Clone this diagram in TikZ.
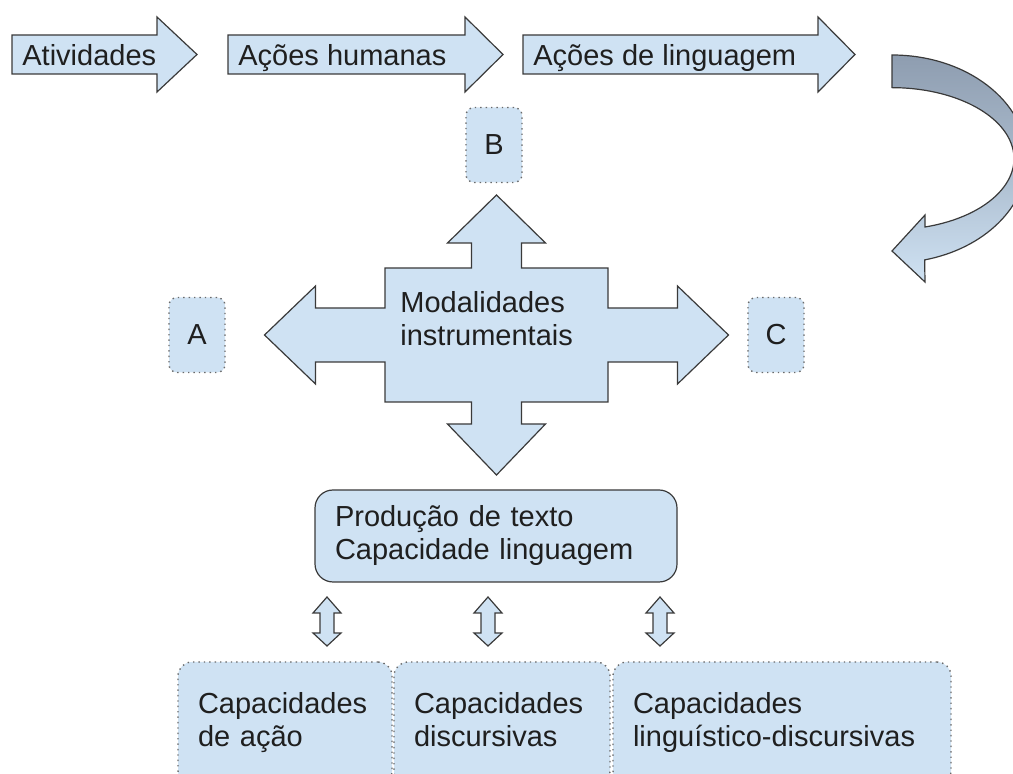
\documentclass[tikz,border=0pt]{standalone}
\usepackage{fontspec}
\setmainfont{Liberation Sans}
\usetikzlibrary{positioning}

\definecolor{boxblue}{HTML}{CFE2F3}
\definecolor{edgegray}{HTML}{3A3A3A}
\definecolor{dotgray}{HTML}{6A6A6A}
\definecolor{curvetop}{HTML}{8E9DB0}

\tikzset{
    blockarrow/.style={draw=edgegray, fill=boxblue, line width=0.6pt, line join=miter},
    lbl/.style={anchor=base west, inner sep=0pt, text=black!88},
    dotbox/.style={draw=dotgray, dotted, line width=0.7pt, fill=boxblue, rounded corners=4pt,
        minimum width=28pt, minimum height=37.5pt, text=black!88},
    capbox/.style={draw=dotgray, dotted, line width=0.7pt, fill=boxblue, rounded corners=7pt,
        inner xsep=10pt, minimum height=61.5pt, align=left, text=black!88}
}

\begin{document}
\begin{tikzpicture}[x=0.5pt, y=-0.5pt, every node/.style={font=\fontsize{14.5}{16.5}\selectfont}]
    \useasboundingbox (0,0) rectangle (1013,774);
    \clip (0,0) rectangle (1013,774);

    % top row of arrows
    \foreach \l/\r/\t in {12/157/197, 228/465/503, 523/818/855}
        \draw[blockarrow] (\l,35) -- (\r,35) -- (\r,17) -- (\t,54.5) -- (\r,92) -- (\r,74) -- (\l,74) -- cycle;
    \node[lbl] (ativ) at (22,65.5) {Atividades};
    \node[lbl] (humanas) at (238,65.5) {Ações humanas};
    \node[lbl] (lingua) at (533,65.5) {Ações de linguagem};

    % curved arrow on the right
    \draw[edgegray, line width=0.6pt, top color=curvetop, bottom color=boxblue, middle color=curvetop!55!boxblue]
        (892,55) arc[start angle=90, end angle=-76, x radius=67.5pt, y radius=52pt]
        -- (925,282) -- (892,251) -- (925,215) -- (925,227)
        arc[start angle=-74.3, end angle=90, x radius=61pt, y radius=35.5pt] -- cycle;

    % cross of four arrows
    \begin{scope}[shift={(496.5,335)}]
        \draw[blockarrow] (0,-140) -- (49,-92) -- (25,-92) -- (25,-67) -- (111.5,-67) -- (111.5,-27)
            -- (181,-27) -- (181,-49) -- (232,0) -- (181,49) -- (181,27) -- (111.5,27) -- (111.5,67)
            -- (25,67) -- (25,89) -- (49,89) -- (0,140) -- (-49,89) -- (-25,89) -- (-25,67)
            -- (-111.5,67) -- (-111.5,27) -- (-181,27) -- (-181,49) -- (-232,0) -- (-181,-49)
            -- (-181,-27) -- (-111.5,-27) -- (-111.5,-67) -- (-25,-67) -- (-25,-92) -- (-49,-92) -- cycle;
    \end{scope}
    \node[lbl, anchor=west, align=left] (modal) at (400,322) {\strut Modalidades\\instrumentais\strut};

    \node[dotbox] (B) at (494,145) {B};
    \node[dotbox] (A) at (197,335) {A};
    \node[dotbox] (C) at (776,335) {C};

    % production box
    \node[draw=edgegray, line width=0.6pt, fill=boxblue, rounded corners=9pt, inner xsep=10pt,
        text width=161pt, minimum height=46pt, align=left, text=black!88]
        (prod) at (496,536) {\strut Produção de texto\\Capacidade linguagem\strut};

    % small double arrows
    \foreach \x in {327,488,660}
        \draw[blockarrow] (\x,597) -- (\x+14,613) -- (\x+7,613) -- (\x+7,633) -- (\x+14,633)
            -- (\x,646) -- (\x-14,633) -- (\x-7,633) -- (\x-7,613) -- (\x-14,613) -- cycle;

    % capacities
    \node[capbox, text width=87pt] (acao) at (285,723.5) {\strut Capacidades\\de ação\strut};
    \node[capbox, text width=88pt] (disc) at (502,723.5) {\strut Capacidades\\discursivas\strut};
    \node[capbox, text width=149pt] (lingdisc) at (782,723.5) {\strut Capacidades\\linguístico-discursivas\strut};
\end{tikzpicture}
\end{document}
